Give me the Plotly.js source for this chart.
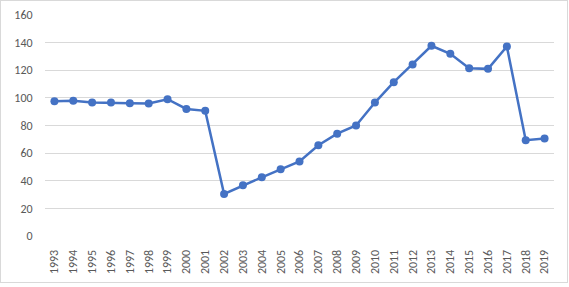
<!DOCTYPE html>
<html>
<head>
<meta charset="utf-8">
<script src="https://cdn.plot.ly/plotly-3.0.1.min.js"></script>
<style>
html,body{margin:0;padding:0;background:#fff;}
#chart{width:566px;height:281px;border:1px solid #d9d9d9;}
</style>
</head>
<body>
<div id="chart"></div>
<script>
const years = ['1993','1994','1995','1996','1997','1998','1999','2000','2001','2002','2003','2004','2005','2006','2007','2008','2009','2010','2011','2012','2013','2014','2015','2016','2017','2018','2019'];
const values = [97.6,98,96.6,96.6,96.1,96,99,92,90.6,30.4,36.7,42.5,48.3,54,65.7,74.1,80,96.6,111.4,124.2,137.7,131.9,121.5,121,137.2,69.3,70.5];
const yTicks = [0,20,40,60,80,100,120,140,160];

Plotly.newPlot('chart', [{
  x: years,
  y: values,
  type: 'scatter',
  mode: 'lines+markers',
  line: {color: '#4472C4', width: 2.5},
  marker: {color: '#4472C4', size: 8},
  hoverinfo: 'skip'
}], {
  width: 566, height: 281,
  margin: {l: 44, r: 13, t: 14, b: 46},
  paper_bgcolor: '#fff', plot_bgcolor: '#fff',
  showlegend: false,
  font: {family: 'Carlito, Calibri, "Liberation Sans", sans-serif', size: 12, color: '#595959'},
  xaxis: {
    type: 'category',
    range: [-0.5, years.length - 0.5],
    tickangle: -90,
    showgrid: false,
    showline: false,
    zeroline: false,
    ticks: 'outside', ticklen: 8, tickcolor: 'rgba(0,0,0,0)',
    tickfont: {size: 12, color: '#595959'}
  },
  yaxis: {
    range: [0, 160],
    tickvals: yTicks,
    ticktext: yTicks.map(String),
    showgrid: true,
    gridcolor: '#d9d9d9',
    gridwidth: 1,
    zeroline: false,
    showline: false,
    ticks: 'outside', ticklen: 9, tickcolor: 'rgba(0,0,0,0)',
    tickfont: {size: 12, color: '#595959'}
  }
}, {staticPlot: true});
</script>
</body>
</html>
